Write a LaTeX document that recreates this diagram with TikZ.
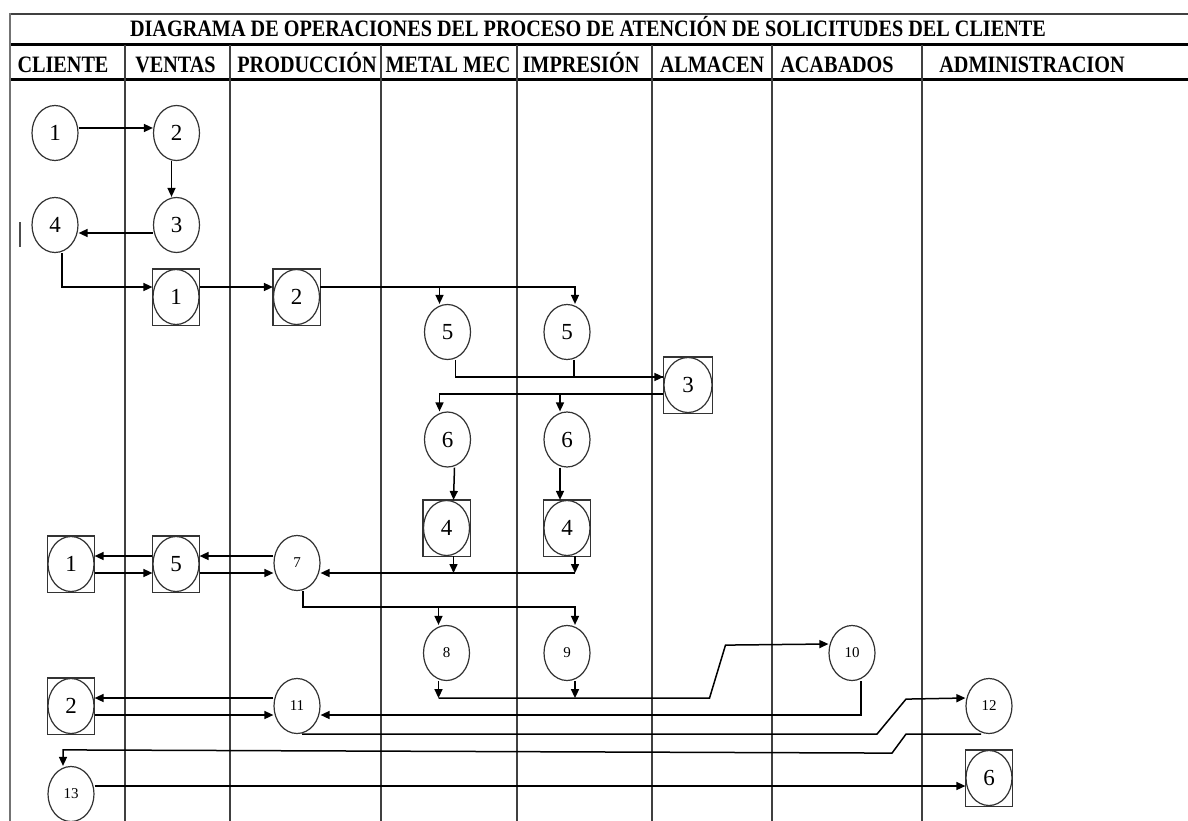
\documentclass[tikz,border=0pt]{standalone}
\usepackage{fontspec}
\setmainfont{Liberation Serif}
\newfontfamily\headfont[FakeStretch=0.86]{Liberation Serif}
\usetikzlibrary{arrows.meta,shapes.geometric}

\begin{document}
\begin{tikzpicture}[x=1pt,y=1pt,
  op/.style={ellipse, draw=black!80, line width=1.2pt, minimum width=46pt,
    minimum height=55pt, inner sep=0pt, font=\fontsize{23}{23}\selectfont},
  opsm/.style={op, font=\fontsize{15}{15}\selectfont},
  opbox/.style={op,
    append after command={\pgfextra{\draw[draw=black!80, line width=1.2pt]
      (\tikzlastnode.north -| \tikzlastnode.west) rectangle
      (\tikzlastnode.south -| \tikzlastnode.east);}}},
  arr/.style={-{Triangle[length=9pt,width=8pt]}, line width=1.5pt},
  flow/.style={line width=1.5pt},
  lane/.style={line width=1.4pt, black!75},
  hd/.style={font=\headfont\bfseries\fontsize{23.5}{24}\selectfont, anchor=base, inner sep=0pt}
]
\fill[white] (0,0) rectangle (1188,-821);
\useasboundingbox (0,0) rectangle (1188,-821);

% table frame
\draw[line width=2pt, black!75] (10,-14) -- (1188,-14);
\draw[line width=3pt] (10,-45) -- (1188,-45);
\draw[line width=3pt] (10,-80) -- (1188,-80);
\draw[line width=2.5pt, black!55] (10,-13) -- (10,-821);
\foreach \lx in {125,230,381,517,652,772,922}
  \draw[lane] (\lx,-45) -- (\lx,-821);
\draw[line width=1.5pt, black!70] (20,-222) -- (20,-247);

% titles
\node[hd] (title) at (588,-37) {DIAGRAMA DE OPERACIONES DEL PROCESO DE ATENCIÓN DE SOLICITUDES DEL CLIENTE};
\node[hd] (hcli) at (63,-73) {CLIENTE};
\node[hd] (hven) at (175.5,-73) {VENTAS};
\node[hd] (hpro) at (307,-73) {PRODUCCIÓN};
\node[hd] (hmet) at (448,-73) {METAL MEC};
\node[hd] (himp) at (581,-73) {IMPRESIÓN};
\node[hd] (halm) at (712,-73) {ALMACEN};
\node[hd] (haca) at (837,-73) {ACABADOS};
\node[hd] (hadm) at (1032,-73) {ADMINISTRACION};

% operations
\node[op] (c1) at (55,-133) {1};
\node[op] (v2) at (176.5,-133) {2};
\node[op] (v3) at (176.5,-225) {3};
\node[op] (c4) at (55,-225) {4};
\node[opbox] (vb1) at (176,-297) {1};
\node[opbox] (pb2) at (296.5,-297) {2};
\node[op] (m5) at (447.5,-332) {5};
\node[op] (i5) at (567,-332) {5};
\node[opbox, minimum width=48pt] (ab3) at (688,-385) {3};
\node[op] (m6) at (447.5,-439.5) {6};
\node[op] (i6) at (567,-439.5) {6};
\node[opbox] (mb4) at (446.5,-528) {4};
\node[opbox] (ib4) at (567,-528) {4};
\node[opbox] (cb1) at (71,-564) {1};
\node[opbox] (vb5) at (176,-564) {5};
\node[opsm] (p7) at (297,-563) {7};
\node[opsm] (m8) at (446.5,-653) {8};
\node[opsm] (i9) at (567,-653) {9};
\node[opsm] (a10) at (852,-653) {10};
\node[opbox] (cb2) at (71,-706) {2};
\node[opsm] (p11) at (297,-706) {11};
\node[opsm] (d12) at (989,-706) {12};
\node[opsm] (c13) at (71,-794) {13};
\node[opbox] (db6) at (989,-778) {6};

% connectors
\draw[arr] ([yshift=5pt]c1.east) -- ([yshift=5pt]c1.east -| v2.west);
\draw[arr] ([xshift=-5pt]v2.south) -- ([xshift=-5pt]v3.north);
\draw[arr] ([yshift=-8pt]v3.west) -- ([yshift=-8pt]v3.west -| c4.east);
\draw[arr] ([xshift=7pt]c4.south) |- ([yshift=10pt]vb1.west);
\draw[arr] ([yshift=10pt]vb1.east) -- ([yshift=10pt]pb2.west);
\draw[arr] ([yshift=10pt]pb2.east) -| ([xshift=8pt]i5.north);
\draw[arr] ([yshift=10pt]pb2.east) -| ([xshift=-8pt]m5.north);
\draw[arr] ([xshift=8pt]m5.south) |- ([yshift=8pt]ab3.west);
\draw[flow] ([xshift=7pt]i5.south) |- ([yshift=8pt]ab3.west);
\draw[arr] ([yshift=-9pt]ab3.west) -| ([xshift=-8pt]m6.north);
\draw[arr] ([yshift=-9pt]ab3.west) -| ([xshift=-7pt]i6.north);
\draw[arr] ([xshift=7pt]m6.south) -- ([xshift=7pt]mb4.north);
\draw[arr] ([xshift=-7pt]i6.south) -- ([xshift=-7pt]ib4.north);
\draw[arr] ([xshift=7pt]mb4.south) -- ([xshift=7pt,yshift=-10pt]mb4.south |- p7.east);
\draw[arr] ([xshift=8pt]ib4.south) -- ([xshift=8pt,yshift=-10pt]ib4.south |- p7.east);
\draw[arr] ([xshift=8pt,yshift=-10pt]ib4.south |- p7.east) -- ([yshift=-10pt]p7.east);
\draw[arr] ([yshift=7pt]p7.west) -- ([yshift=7pt]p7.west -| vb5.east);
\draw[arr] ([yshift=-9pt]vb5.east) -- ([yshift=-9pt]vb5.east -| p7.west);
\draw[arr] ([yshift=8pt]vb5.west) -- ([yshift=8pt]vb5.west -| cb1.east);
\draw[arr] ([yshift=-9pt]cb1.east) -- ([yshift=-9pt]cb1.east -| vb5.west);
\draw[arr] ([xshift=6pt]p7.south) |- ([xshift=8pt,yshift=18pt]i9.north) -- ([xshift=8pt]i9.north);
\draw[arr] ([xshift=-8pt,yshift=18pt]m8.north) -- ([xshift=-8pt]m8.north);
\draw[arr] ([xshift=-8pt]m8.south) -- ++(0,-17);
\draw[arr] ([xshift=8pt]i9.south) -- ++(0,-17);
\draw[arr] ([xshift=-8pt,yshift=-17pt]m8.south) -- ++(271,0) -- ++(16,53) -- ([yshift=9pt]a10.west);
\draw[arr] ([xshift=9pt]a10.south) |- ([yshift=-9pt]p11.east);
\draw[arr] ([yshift=8pt]p11.west) -- ([yshift=8pt]p11.west -| cb2.east);
\draw[arr] ([yshift=-9pt]cb2.east) -- ([yshift=-9pt]cb2.east -| p11.west);
\draw[arr] ([xshift=5pt]p11.south) -- ++(575,0) -- ++(29,35) -- ([yshift=8pt]d12.west);
\draw[arr] ([xshift=-8pt]d12.south) -- ++(-75,0) -- ++(-14,-19)
  -- ([xshift=-8pt,yshift=16pt]c13.north) -- ([xshift=-8pt]c13.north);
\draw[arr] ([yshift=8pt]c13.east) -- ([yshift=8pt]c13.east -| db6.west);
\end{tikzpicture}
\end{document}
